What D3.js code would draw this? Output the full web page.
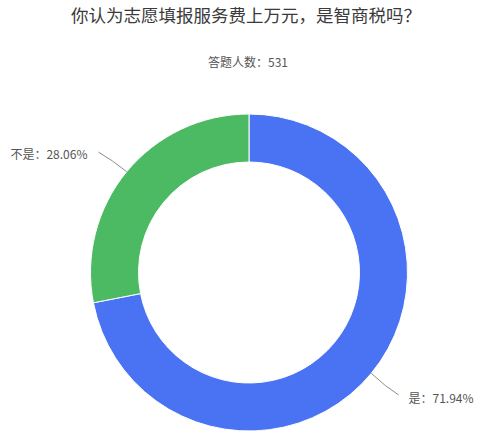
<!DOCTYPE html>
<html>
<head>
<meta charset="utf-8">
<script src="https://cdn.jsdelivr.net/npm/d3@7"></script>
<style>
  body { margin: 0; background: #fff; }
  text { font-family: "Noto Sans CJK SC", "Noto Sans", sans-serif; }
</style>
</head>
<body>
<div id="chart"></div>
<script>
const title = "你认为志愿填报服务费上万元，是智商税吗？"
const subtitle = "答题人数：531"
const categories = ["是", "不是"]
const shares = [71.94, 28.06]
const colors = ["#4a73f4", "#4cba63"]

const width = 503
const height = 445
const cx = 249
const cy = 272.5
const outerR = 158.5
const innerR = 110.5

const svg = d3.select("#chart").append("svg")
  .attr("width", width)
  .attr("height", height)

svg.append("text")
  .attr("x", 246)
  .attr("y", 22)
  .attr("text-anchor", "middle")
  .attr("font-size", 17.5)
  .attr("fill", "#3a3a3a")
  .text(title)

svg.append("text")
  .attr("x", 248)
  .attr("y", 67)
  .attr("text-anchor", "middle")
  .attr("font-size", 12)
  .attr("fill", "#555")
  .text(subtitle)

const data = categories.map((c, i) => ({ name: c, value: shares[i], color: colors[i] }))

const pie = d3.pie()
  .sort(null)
  .value((d) => { return d.value })

const arc = d3.arc()
  .innerRadius(innerR)
  .outerRadius(outerR)

const g = svg.append("g")
  .attr("transform", "translate(" + cx + "," + cy + ")")

const arcs = pie(data)

g.selectAll("path.slice")
  .data(arcs)
  .enter().append("path")
    .attr("class", "slice")
    .attr("d", arc)
    .attr("fill", (d) => { return d.data.color })
    .attr("stroke", "#fff")
    .attr("stroke-width", 1)

// label lines, slightly bent
arcs.forEach((d) => {
  const a = (d.startAngle + d.endAngle) / 2
  const sx = Math.sin(a), sy = -Math.cos(a)
  const p0 = [sx * outerR, sy * outerR]
  const pc = [sx * (outerR + 20), sy * (outerR + 20)]
  const right = sx > 0
  const p1 = [sx * (outerR + 34) + (right ? 1 : -2), sy * (outerR + 34) + (right ? 0 : 2)]
  const path = d3.path()
  path.moveTo(p0[0], p0[1])
  path.quadraticCurveTo(pc[0] + (right ? -1 : 1), pc[1] + 1, p1[0], p1[1])
  g.append("path")
    .attr("d", path.toString())
    .attr("fill", "none")
    .attr("stroke", "#8c8c8c")
    .attr("stroke-width", 1)

  g.append("text")
    .attr("x", p1[0] + (right ? 10 : -11))
    .attr("y", p1[1] + (right ? 8 : 7))
    .attr("text-anchor", right ? "start" : "end")
    .attr("font-size", 12)
    .attr("fill", "#555")
    .text(d.data.name + "：" + d.data.value.toFixed(2) + "%")
})
</script>
</body>
</html>
